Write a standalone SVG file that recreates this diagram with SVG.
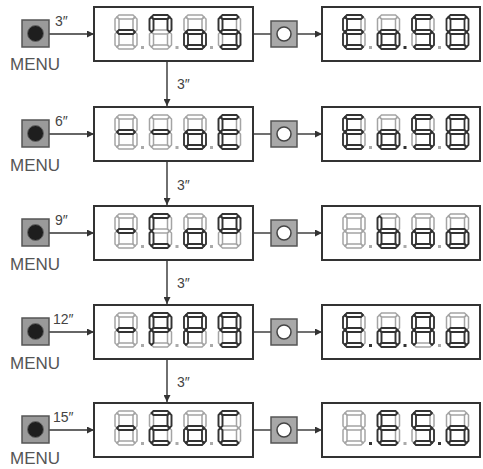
<svg xmlns="http://www.w3.org/2000/svg" xmlns:xlink="http://www.w3.org/1999/xlink" width="483" height="469" viewBox="0 0 483 469">
<style>
.box{fill:#fff;stroke:#333;stroke-width:2}
.off{fill:none;stroke:#a4a4a4;stroke-width:1.5}
.on{fill:none;stroke:#333;stroke-width:1.8}
.dpo{fill:#aaa}
.dpn{fill:#333}
.conn{stroke:#333;stroke-width:1.4;fill:none}
.mbtn{fill:#9a9a9a;stroke:#555;stroke-width:1.5}
.mdot{fill:#1e1e1e;stroke:#666;stroke-width:1}
.sbtn{fill:#a8a8a8;stroke:#555;stroke-width:1.5}
.sdot{fill:#fff;stroke:#444;stroke-width:1.5}
.lbl{font-family:"Liberation Sans",Arial,sans-serif;font-size:14px;fill:#444}
.menu{font-family:"Liberation Sans",Arial,sans-serif;font-size:17px;fill:#555}
</style>
<defs>
<marker id="ah" viewBox="0 0 8 8" refX="8" refY="4" markerWidth="7" markerHeight="7" orient="auto" markerUnits="userSpaceOnUse"><path d="M0 0L8 4L0 8Z" fill="#333"/></marker>
<path id="sa" d="M4 0H18L20 2L18 4H4L2 2Z"/>
<path id="sg" d="M4 15H18L20 17L18 19H4L2 17Z"/>
<path id="sd" d="M4 30H18L20 32L18 34H4L2 32Z"/>
<path id="sf" d="M0 4L2 2L4 4V15L2 17L0 15Z"/>
<path id="se" d="M0 19L2 17L4 19V30L2 32L0 30Z"/>
<path id="sb" d="M18 4L20 2L22 4V15L20 17L18 15Z"/>
<path id="sc" d="M18 19L20 17L22 19V30L20 32L18 30Z"/>
<g id="d8"><use xlink:href="#sa"/><use xlink:href="#sb"/><use xlink:href="#sc"/><use xlink:href="#sd"/><use xlink:href="#se"/><use xlink:href="#sf"/><use xlink:href="#sg"/></g>
<g id="btnM"><rect class="mbtn" x="0" y="0" width="27" height="27"/><circle class="mdot" cx="13.5" cy="13.5" r="8"/></g>
<g id="btnS"><rect class="sbtn" x="0" y="0" width="26" height="26"/><circle class="sdot" cx="13" cy="13" r="7"/></g>
</defs>

<g id="connectors">
<line class="conn" x1="49" y1="34" x2="94" y2="34" marker-end="url(#ah)"/>
<line class="conn" x1="253" y1="34" x2="271" y2="34"/>
<line class="conn" x1="297" y1="34" x2="322" y2="34" marker-end="url(#ah)"/>
<line class="conn" x1="49" y1="134" x2="94" y2="134" marker-end="url(#ah)"/>
<line class="conn" x1="253" y1="134" x2="271" y2="134"/>
<line class="conn" x1="297" y1="134" x2="322" y2="134" marker-end="url(#ah)"/>
<line class="conn" x1="49" y1="233" x2="94" y2="233" marker-end="url(#ah)"/>
<line class="conn" x1="253" y1="233" x2="271" y2="233"/>
<line class="conn" x1="297" y1="233" x2="322" y2="233" marker-end="url(#ah)"/>
<line class="conn" x1="49" y1="332" x2="94" y2="332" marker-end="url(#ah)"/>
<line class="conn" x1="253" y1="332" x2="271" y2="332"/>
<line class="conn" x1="297" y1="332" x2="322" y2="332" marker-end="url(#ah)"/>
<line class="conn" x1="49" y1="430" x2="94" y2="430" marker-end="url(#ah)"/>
<line class="conn" x1="253" y1="430" x2="271" y2="430"/>
<line class="conn" x1="297" y1="430" x2="322" y2="430" marker-end="url(#ah)"/>
<line class="conn" x1="167" y1="61" x2="167" y2="106" marker-end="url(#ah)"/>
<line class="conn" x1="167" y1="161" x2="167" y2="205" marker-end="url(#ah)"/>
<line class="conn" x1="167" y1="260" x2="167" y2="304" marker-end="url(#ah)"/>
<line class="conn" x1="167" y1="359" x2="167" y2="402" marker-end="url(#ah)"/>
<text class="lbl" x="55" y="26">3″</text>
<text class="lbl" x="55" y="126">6″</text>
<text class="lbl" x="55" y="225">9″</text>
<text class="lbl" x="53" y="324">12″</text>
<text class="lbl" x="53" y="422">15″</text>
<text class="lbl" x="177" y="89">3″</text>
<text class="lbl" x="177" y="190">3″</text>
<text class="lbl" x="177" y="288">3″</text>
<text class="lbl" x="177" y="387">3″</text>
</g>

<!-- Row 1 -->
<g id="menu1"><use xlink:href="#btnM" x="22" y="20"/><text class="menu" x="10" y="70">MENU</text></g>
<g id="disp1a"><rect class="box" x="94" y="7" width="159" height="54"/>
<g transform="translate(115,15)"><use xlink:href="#d8" class="off"/><use xlink:href="#sg" class="on"/><rect class="dpo" x="26" y="31" width="3" height="3"/></g>
<g transform="translate(149.5,15)"><use xlink:href="#d8" class="off"/><use xlink:href="#sa" class="on"/><use xlink:href="#sb" class="on"/><use xlink:href="#sf" class="on"/><rect class="dpo" x="26" y="31" width="3" height="3"/></g>
<g transform="translate(184,15)"><use xlink:href="#d8" class="off"/><use xlink:href="#sg" class="on"/><use xlink:href="#sc" class="on"/><use xlink:href="#sd" class="on"/><use xlink:href="#se" class="on"/><rect class="dpo" x="26" y="31" width="3" height="3"/></g>
<g transform="translate(218.5,15)"><use xlink:href="#d8" class="off"/><use xlink:href="#sa" class="on"/><use xlink:href="#sf" class="on"/><use xlink:href="#sg" class="on"/><use xlink:href="#sc" class="on"/><use xlink:href="#sd" class="on"/></g>
</g>
<g id="btn1"><use xlink:href="#btnS" x="271" y="21"/></g>
<g id="disp1b"><rect class="box" x="322" y="7" width="158" height="54"/>
<g transform="translate(343,15)"><use xlink:href="#d8" class="off"/><use xlink:href="#sa" class="on"/><use xlink:href="#sf" class="on"/><use xlink:href="#sg" class="on"/><use xlink:href="#se" class="on"/><use xlink:href="#sd" class="on"/><rect class="dpo" x="26" y="31" width="3" height="3"/></g>
<g transform="translate(377.5,15)"><use xlink:href="#d8" class="off"/><use xlink:href="#sg" class="on"/><use xlink:href="#sc" class="on"/><use xlink:href="#sd" class="on"/><use xlink:href="#se" class="on"/><rect class="dpn" x="26" y="31" width="3" height="3"/></g>
<g transform="translate(412,15)"><use xlink:href="#d8" class="off"/><use xlink:href="#sa" class="on"/><use xlink:href="#sf" class="on"/><use xlink:href="#sg" class="on"/><use xlink:href="#sc" class="on"/><use xlink:href="#sd" class="on"/><rect class="dpo" x="26" y="31" width="3" height="3"/></g>
<g transform="translate(446.5,15)"><use xlink:href="#d8" class="on"/></g>
</g>

<!-- Row 2 -->
<g id="menu2"><use xlink:href="#btnM" x="22" y="120"/><text class="menu" x="10" y="171">MENU</text></g>
<g id="disp2a"><rect class="box" x="94" y="107" width="159" height="54"/>
<g transform="translate(115,115)"><use xlink:href="#d8" class="off"/><use xlink:href="#sg" class="on"/><rect class="dpo" x="26" y="31" width="3" height="3"/></g>
<g transform="translate(149.5,115)"><use xlink:href="#d8" class="off"/><use xlink:href="#sg" class="on"/><rect class="dpo" x="26" y="31" width="3" height="3"/></g>
<g transform="translate(184,115)"><use xlink:href="#d8" class="off"/><use xlink:href="#sg" class="on"/><use xlink:href="#sc" class="on"/><use xlink:href="#sd" class="on"/><use xlink:href="#se" class="on"/><rect class="dpo" x="26" y="31" width="3" height="3"/></g>
<g transform="translate(218.5,115)"><use xlink:href="#d8" class="off"/><use xlink:href="#sa" class="on"/><use xlink:href="#sf" class="on"/><use xlink:href="#sg" class="on"/><use xlink:href="#se" class="on"/><use xlink:href="#sd" class="on"/></g>
</g>
<g id="btn2"><use xlink:href="#btnS" x="271" y="121"/></g>
<g id="disp2b"><rect class="box" x="322" y="107" width="158" height="54"/>
<g transform="translate(343,115)"><use xlink:href="#d8" class="off"/><use xlink:href="#sa" class="on"/><use xlink:href="#sf" class="on"/><use xlink:href="#sg" class="on"/><use xlink:href="#se" class="on"/><use xlink:href="#sd" class="on"/><rect class="dpo" x="26" y="31" width="3" height="3"/></g>
<g transform="translate(377.5,115)"><use xlink:href="#d8" class="off"/><use xlink:href="#sg" class="on"/><use xlink:href="#sc" class="on"/><use xlink:href="#sd" class="on"/><use xlink:href="#se" class="on"/><rect class="dpn" x="26" y="31" width="3" height="3"/></g>
<g transform="translate(412,115)"><use xlink:href="#d8" class="off"/><use xlink:href="#sa" class="on"/><use xlink:href="#sf" class="on"/><use xlink:href="#sg" class="on"/><use xlink:href="#sc" class="on"/><use xlink:href="#sd" class="on"/><rect class="dpo" x="26" y="31" width="3" height="3"/></g>
<g transform="translate(446.5,115)"><use xlink:href="#d8" class="on"/></g>
</g>

<!-- Row 3 -->
<g id="menu3"><use xlink:href="#btnM" x="22" y="219"/><text class="menu" x="10" y="270">MENU</text></g>
<g id="disp3a"><rect class="box" x="94" y="206" width="159" height="54"/>
<g transform="translate(115,214)"><use xlink:href="#d8" class="off"/><use xlink:href="#sg" class="on"/><rect class="dpo" x="26" y="31" width="3" height="3"/></g>
<g transform="translate(149.5,214)"><use xlink:href="#d8" class="off"/><use xlink:href="#sa" class="on"/><use xlink:href="#sf" class="on"/><use xlink:href="#se" class="on"/><use xlink:href="#sd" class="on"/><rect class="dpo" x="26" y="31" width="3" height="3"/></g>
<g transform="translate(184,214)"><use xlink:href="#d8" class="off"/><use xlink:href="#sg" class="on"/><use xlink:href="#sc" class="on"/><use xlink:href="#sd" class="on"/><use xlink:href="#se" class="on"/><rect class="dpo" x="26" y="31" width="3" height="3"/></g>
<g transform="translate(218.5,214)"><use xlink:href="#d8" class="off"/><use xlink:href="#sa" class="on"/><use xlink:href="#sb" class="on"/><use xlink:href="#sf" class="on"/><use xlink:href="#sg" class="on"/></g>
</g>
<g id="btn3"><use xlink:href="#btnS" x="271" y="220"/></g>
<g id="disp3b"><rect class="box" x="322" y="206" width="158" height="54"/>
<g transform="translate(343,214)"><use xlink:href="#d8" class="off"/><rect class="dpo" x="26" y="31" width="3" height="3"/></g>
<g transform="translate(377.5,214)"><use xlink:href="#d8" class="off"/><use xlink:href="#sf" class="on"/><use xlink:href="#sg" class="on"/><use xlink:href="#sc" class="on"/><use xlink:href="#sd" class="on"/><use xlink:href="#se" class="on"/><rect class="dpo" x="26" y="31" width="3" height="3"/></g>
<g transform="translate(412,214)"><use xlink:href="#d8" class="off"/><use xlink:href="#sg" class="on"/><use xlink:href="#sc" class="on"/><use xlink:href="#sd" class="on"/><use xlink:href="#se" class="on"/><rect class="dpo" x="26" y="31" width="3" height="3"/></g>
<g transform="translate(446.5,214)"><use xlink:href="#d8" class="off"/><use xlink:href="#sg" class="on"/><use xlink:href="#sc" class="on"/><use xlink:href="#sd" class="on"/><use xlink:href="#se" class="on"/></g>
</g>

<!-- Row 4 -->
<g id="menu4"><use xlink:href="#btnM" x="22" y="318"/><text class="menu" x="10" y="369">MENU</text></g>
<g id="disp4a"><rect class="box" x="94" y="305" width="159" height="54"/>
<g transform="translate(115,313)"><use xlink:href="#d8" class="off"/><use xlink:href="#sg" class="on"/><rect class="dpo" x="26" y="31" width="3" height="3"/></g>
<g transform="translate(149.5,313)"><use xlink:href="#d8" class="off"/><use xlink:href="#sa" class="on"/><use xlink:href="#sb" class="on"/><use xlink:href="#sf" class="on"/><use xlink:href="#sg" class="on"/><use xlink:href="#se" class="on"/><rect class="dpo" x="26" y="31" width="3" height="3"/></g>
<g transform="translate(184,313)"><use xlink:href="#d8" class="off"/><use xlink:href="#sa" class="on"/><use xlink:href="#sb" class="on"/><use xlink:href="#sf" class="on"/><use xlink:href="#sg" class="on"/><use xlink:href="#se" class="on"/><rect class="dpo" x="26" y="31" width="3" height="3"/></g>
<g transform="translate(218.5,313)"><use xlink:href="#d8" class="off"/><use xlink:href="#sa" class="on"/><use xlink:href="#sb" class="on"/><use xlink:href="#sc" class="on"/><use xlink:href="#sd" class="on"/><use xlink:href="#sf" class="on"/><use xlink:href="#sg" class="on"/></g>
</g>
<g id="btn4"><use xlink:href="#btnS" x="271" y="319"/></g>
<g id="disp4b"><rect class="box" x="322" y="305" width="158" height="54"/>
<g transform="translate(343,313)"><use xlink:href="#d8" class="off"/><use xlink:href="#sa" class="on"/><use xlink:href="#sf" class="on"/><use xlink:href="#sg" class="on"/><use xlink:href="#se" class="on"/><use xlink:href="#sd" class="on"/><rect class="dpn" x="26" y="31" width="3" height="3"/></g>
<g transform="translate(377.5,313)"><use xlink:href="#d8" class="off"/><use xlink:href="#sg" class="on"/><use xlink:href="#sc" class="on"/><use xlink:href="#sd" class="on"/><use xlink:href="#se" class="on"/><rect class="dpn" x="26" y="31" width="3" height="3"/></g>
<g transform="translate(412,313)"><use xlink:href="#d8" class="off"/><use xlink:href="#sa" class="on"/><use xlink:href="#sb" class="on"/><use xlink:href="#sc" class="on"/><use xlink:href="#se" class="on"/><use xlink:href="#sf" class="on"/><use xlink:href="#sg" class="on"/><rect class="dpo" x="26" y="31" width="3" height="3"/></g>
<g transform="translate(446.5,313)"><use xlink:href="#d8" class="off"/><use xlink:href="#sg" class="on"/><use xlink:href="#sc" class="on"/><use xlink:href="#sd" class="on"/><use xlink:href="#se" class="on"/></g>
</g>

<!-- Row 5 -->
<g id="menu5"><use xlink:href="#btnM" x="22" y="416"/><text class="menu" x="10" y="464">MENU</text></g>
<g id="disp5a"><rect class="box" x="94" y="403" width="159" height="54"/>
<g transform="translate(115,411)"><use xlink:href="#d8" class="off"/><use xlink:href="#sg" class="on"/><rect class="dpo" x="26" y="31" width="3" height="3"/></g>
<g transform="translate(149.5,411)"><use xlink:href="#d8" class="off"/><use xlink:href="#sa" class="on"/><use xlink:href="#sb" class="on"/><use xlink:href="#sg" class="on"/><use xlink:href="#se" class="on"/><use xlink:href="#sd" class="on"/><rect class="dpo" x="26" y="31" width="3" height="3"/></g>
<g transform="translate(184,411)"><use xlink:href="#d8" class="off"/><use xlink:href="#sg" class="on"/><use xlink:href="#sc" class="on"/><use xlink:href="#sd" class="on"/><use xlink:href="#se" class="on"/><rect class="dpo" x="26" y="31" width="3" height="3"/></g>
<g transform="translate(218.5,411)"><use xlink:href="#d8" class="off"/><use xlink:href="#sa" class="on"/><use xlink:href="#sf" class="on"/><use xlink:href="#se" class="on"/><use xlink:href="#sd" class="on"/></g>
</g>
<g id="btn5"><use xlink:href="#btnS" x="271" y="417"/></g>
<g id="disp5b"><rect class="box" x="322" y="403" width="158" height="54"/>
<g transform="translate(343,411)"><use xlink:href="#d8" class="off"/><rect class="dpn" x="26" y="31" width="3" height="3"/></g>
<g transform="translate(377.5,411)"><use xlink:href="#d8" class="off"/><use xlink:href="#sa" class="on"/><use xlink:href="#sf" class="on"/><use xlink:href="#sg" class="on"/><use xlink:href="#se" class="on"/><use xlink:href="#sd" class="on"/><rect class="dpo" x="26" y="31" width="3" height="3"/></g>
<g transform="translate(412,411)"><use xlink:href="#d8" class="off"/><use xlink:href="#sa" class="on"/><use xlink:href="#sf" class="on"/><use xlink:href="#sg" class="on"/><use xlink:href="#sc" class="on"/><use xlink:href="#sd" class="on"/><rect class="dpn" x="26" y="31" width="3" height="3"/></g>
<g transform="translate(446.5,411)"><use xlink:href="#d8" class="off"/><use xlink:href="#sg" class="on"/><use xlink:href="#sc" class="on"/><use xlink:href="#sd" class="on"/><use xlink:href="#se" class="on"/></g>
</g>
</svg>
